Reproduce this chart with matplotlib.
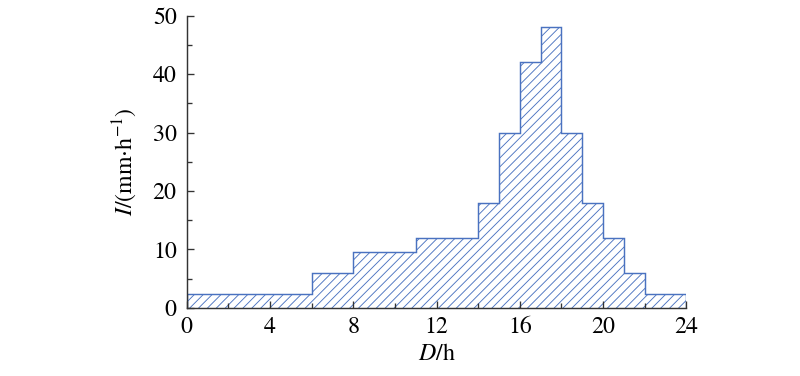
import matplotlib.pyplot as plt
from matplotlib.ticker import MultipleLocator

# hourly rainfall intensity (mm/h), bin edges in hours
edges = [0, 6, 8, 11, 14, 15, 16, 17, 18, 19, 20, 21, 22, 24]
intensity = [2.4, 6, 9.6, 12, 18, 30, 42, 48, 30, 18, 12, 6, 2.4]
xticks = [0, 4, 8, 12, 16, 20, 24]
yticks = [0, 10, 20, 30, 40, 50]

plt.rcParams['font.family'] = ['STIXGeneral', 'DejaVu Serif']
plt.rcParams['mathtext.fontset'] = 'stix'
plt.rcParams['hatch.linewidth'] = 0.8

blue = '#4a72c0'

fig = plt.figure(figsize=(10, 4.7), dpi=80)
ax = fig.add_axes([0.2334, 0.1816, 0.6246, 0.7766])

ax.stairs(intensity, edges, fill=True, facecolor='none', edgecolor=blue,
          hatch='///', linewidth=1.3)

ax.set_xlim(0, 24)
ax.set_ylim(0, 50)
ax.set_xticks(xticks)
ax.set_yticks(yticks)
ax.xaxis.set_minor_locator(MultipleLocator(2))
ax.yaxis.set_minor_locator(MultipleLocator(5))
ax.tick_params(which='both', direction='in', labelsize=21.5, width=1.2,
               color='#333333')
ax.tick_params(axis='y', pad=9)
ax.tick_params(axis='x', pad=8)
ax.tick_params(which='major', length=6)
ax.tick_params(which='minor', length=4.5)

for side in ['top', 'right']:
    ax.spines[side].set_visible(False)
for side in ['left', 'bottom']:
    ax.spines[side].set_linewidth(1.3)
    ax.spines[side].set_color('#333333')

ax.set_xlabel(r'$\mathit{D}$/h', fontsize=21.5, labelpad=5)
ax.set_ylabel(r'$\mathit{I}$/(mm$\cdot$h$^{-1}$)', fontsize=21.5, labelpad=12)

fig.savefig('out.png', dpi=80)
